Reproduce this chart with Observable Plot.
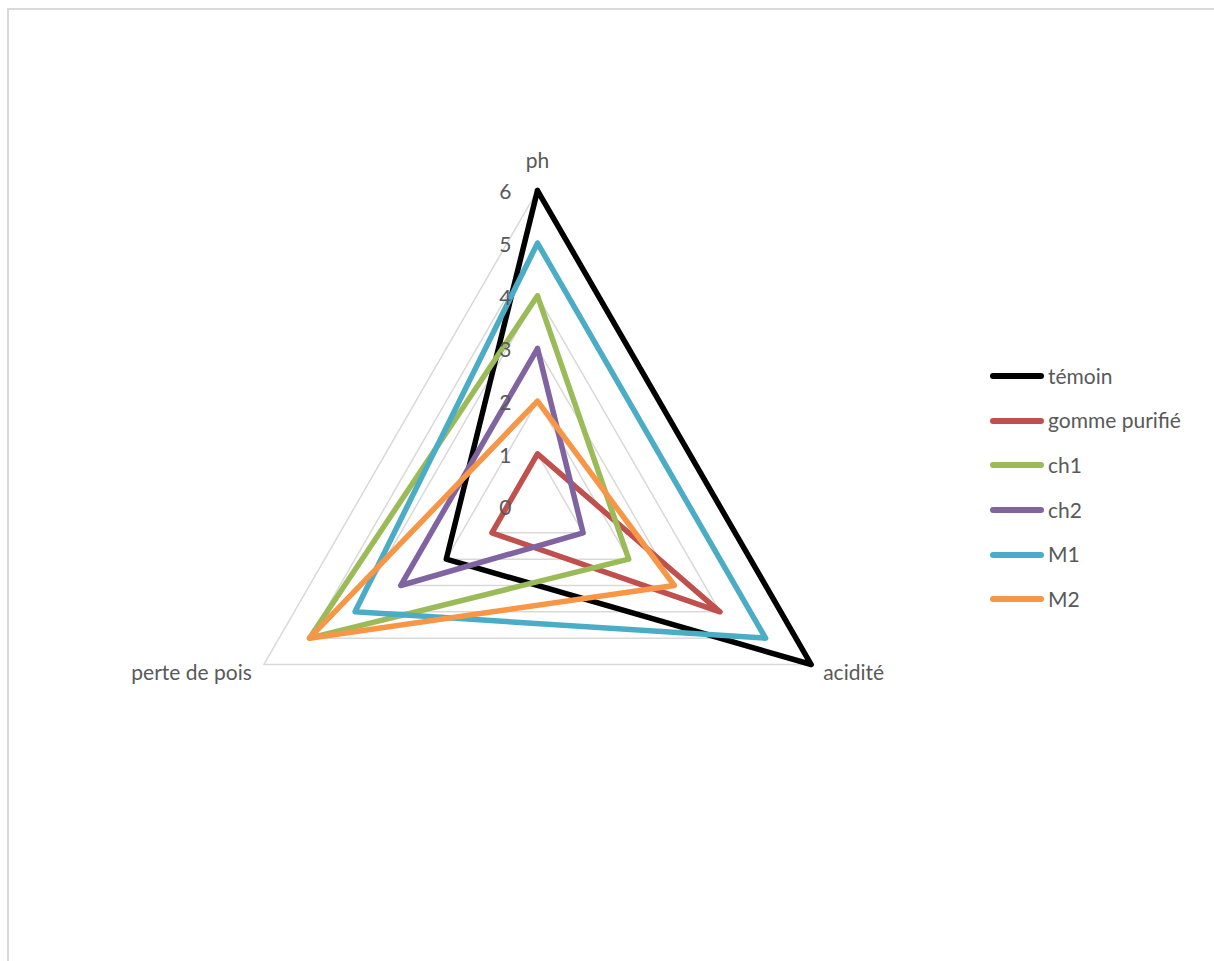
<!DOCTYPE html>
<html>
<head>
<meta charset="utf-8">
<script src="https://cdn.jsdelivr.net/npm/d3@7"></script>
<script src="https://cdn.jsdelivr.net/npm/@observablehq/plot@0.6"></script>
<style>
  html, body { margin: 0; padding: 0; background: #fff; }
  #wrap { position: relative; width: 1214px; height: 961px; overflow: hidden; font-family: Lato, "Open Sans", sans-serif; }
  #frame { position: absolute; left: 7px; top: 8px; right: -10px; bottom: -10px; border-top: 2px solid #d9d9d9; border-left: 2px solid #d9d9d9; }
  #legend { position: absolute; left: 990px; top: 354px; }
  .item { display: flex; align-items: center; height: 44.6px; }
  .swatch { width: 54px; height: 6px; border-radius: 3px; margin-right: 4px; }
  .label { font-size: 21px; color: #595959; line-height: 1; position: relative; top: -1px; }
  #chart { position: absolute; left: 0; top: 0; }
</style>
</head>
<body>
<div id="wrap">
  <div id="frame"></div>
  <div id="chart"></div>
  <div id="legend"></div>
</div>
<script>
// ---- data ----
const axesNames = ["ph", "acidité", "perte de pois"];
const seriesNames = ["témoin", "gomme purifié", "ch1", "ch2", "M1", "M2"];
const phValues = [6, 1, 4, 3, 5, 2];
const aciditeValues = [6, 4, 2, 1, 5, 3];
const perteValues = [2, 1, 5, 3, 4, 5];
const tickValues = [0, 1, 2, 3, 4, 5, 6];
const seriesColors = ["#000000", "#C0504D", "#9BBB59", "#8064A2", "#4BACC6", "#F79646"];

// ---- geometry ----
const W = 1214, H = 961;
const cx = 537, cy = 506, unit = 316 / 6;
const angles = [90, -30, 210].map(a => a * Math.PI / 180);
const px = (v, i) => v * Math.cos(angles[i]);
const py = (v, i) => v * Math.sin(angles[i]);

const valuesByAxis = [phValues, aciditeValues, perteValues];

// series polygons (closed)
const lineRows = [];
seriesNames.forEach((s, k) => {
  [0, 1, 2, 0].forEach(i => {
    const v = valuesByAxis[i][k];
    lineRows.push({series: s, x: px(v, i), y: py(v, i)});
  });
});

// grid triangles
const gridRows = [];
tickValues.filter(t => t > 0).forEach(t => {
  [0, 1, 2, 0].forEach(i => gridRows.push({t, x: px(t, i), y: py(t, i)}));
});

const maxV = d3.max(tickValues);
const axisLabelRows = axesNames.map((name, i) => ({name, i, x: px(maxV, i), y: py(maxV, i)}));

const chart = Plot.plot({
  width: W,
  height: H,
  margin: 0,
  x: {domain: [-cx / unit, (W - cx) / unit], range: [0, W], axis: null},
  y: {domain: [-(H - cy) / unit, cy / unit], range: [H, 0], axis: null},
  color: {domain: seriesNames, range: seriesColors},
  style: {fontFamily: "Lato, 'Open Sans', sans-serif", background: "transparent"},
  marks: [
    Plot.line(gridRows, {x: "x", y: "y", z: "t", stroke: "#d9d9d9", strokeWidth: 1.5}),
    Plot.line(lineRows, {x: "x", y: "y", z: "series", stroke: "series", strokeWidth: 5.5,
      strokeLinejoin: "round", strokeLinecap: "round"}),
    Plot.text(tickValues, {x: 0, y: d => d, text: d => String(d), dx: -26, dy: 2,
      textAnchor: "end", fontSize: 21, fill: "#595959"}),
    Plot.text(axisLabelRows.filter(d => d.i === 0), {x: "x", y: "y", text: "name", dy: -29,
      textAnchor: "middle", fontSize: 21, fill: "#595959"}),
    Plot.text(axisLabelRows.filter(d => d.i === 1), {x: "x", y: "y", text: "name", dx: 12, dy: 9,
      textAnchor: "start", fontSize: 21, fill: "#595959"}),
    Plot.text(axisLabelRows.filter(d => d.i === 2), {x: "x", y: "y", text: "name", dx: -12, dy: 9,
      textAnchor: "end", fontSize: 21, fill: "#595959"})
  ]
});
document.getElementById("chart").appendChild(chart);

// legend
const legend = document.getElementById("legend");
seriesNames.forEach((s, k) => {
  const item = document.createElement("div");
  item.className = "item";
  const sw = document.createElement("div");
  sw.className = "swatch";
  sw.style.background = seriesColors[k];
  const lb = document.createElement("span");
  lb.className = "label";
  lb.textContent = s;
  item.appendChild(sw);
  item.appendChild(lb);
  legend.appendChild(item);
});
</script>
</body>
</html>
